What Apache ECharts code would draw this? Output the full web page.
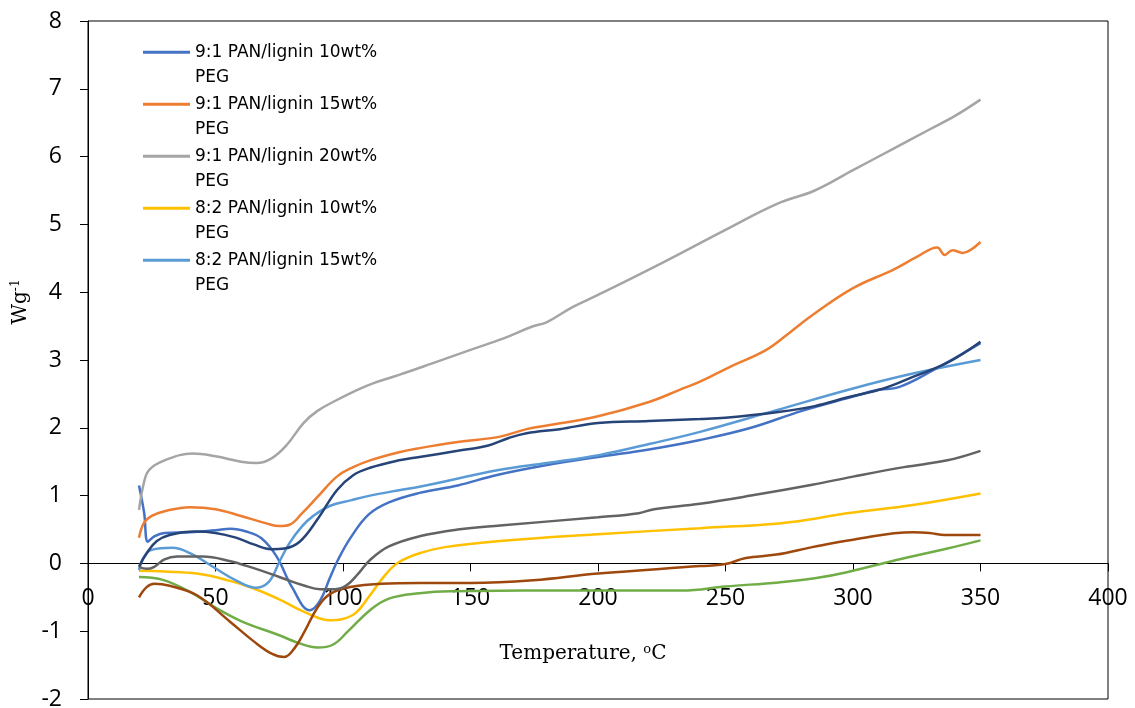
<!DOCTYPE html>
<html>
<head>
<meta charset="utf-8">
<script src="https://cdn.jsdelivr.net/npm/echarts@6/dist/echarts.min.js"></script>
<style>
  html, body { margin: 0; padding: 0; background: #fff; }
  #chart { width: 1135px; height: 708px; }
</style>
</head>
<body>
<div id="chart"></div>
<script>
// x ticks / y ticks
var xTicks = [0, 400, 50];
var yTicks = [-2, 8, 1];

// legend names (only first five show in legend)
var seriesNames = [
    '9:1 PAN/lignin 10wt% PEG',
    '9:1 PAN/lignin 15wt% PEG',
    '9:1 PAN/lignin 20wt% PEG',
    '8:2 PAN/lignin 10wt% PEG',
    '8:2 PAN/lignin 15wt% PEG',
    'Series 6',
    'Series 7',
    'Series 8',
    'Series 9'
];
var seriesColors = ['#4472C4', '#ED7D31', '#A5A5A5', '#FFC000', '#5B9BD5', '#70AD47', '#264478', '#9E480E', '#636363'];

// [temperature, W/g]
var blue10 = [[20,1.15],[22,0.75],[23.5,0.32],[26,0.4],[30,0.45],[40,0.46],[50,0.49],[56,0.51],[62,0.47],[68,0.37],[74,0.1],[80,-0.35],[87,-0.69],[91,-0.55],[95,-0.2],[98,0.05],[103,0.38],[110,0.72],[118,0.9],[130,1.04],[145,1.15],[160,1.3],[180,1.45],[200,1.57],[220,1.68],[240,1.82],[260,2.0],[280,2.25],[300,2.46],[310,2.56],[318,2.6],[330,2.82],[350,3.25]];
var orange15 = [[20,0.38],[22,0.6],[25,0.7],[30,0.77],[40,0.83],[50,0.8],[60,0.7],[70,0.59],[75,0.55],[79,0.57],[84,0.74],[90,0.98],[97.6,1.28],[104,1.42],[110.6,1.52],[122,1.64],[130,1.7],[145,1.79],[161.6,1.87],[172,1.98],[181,2.04],[200,2.17],[220,2.38],[232,2.56],[240,2.68],[251.8,2.9],[266,3.15],[275,3.4],[284,3.66],[300,4.06],[315.7,4.33],[325,4.52],[333,4.66],[336,4.55],[339,4.62],[343,4.58],[346,4.62],[350,4.74]];
var gray20 = [[20,0.79],[22,1.2],[24,1.38],[30,1.52],[41,1.62],[50,1.58],[60,1.5],[66,1.48],[72,1.55],[78,1.75],[84.5,2.07],[90,2.25],[97.6,2.41],[105,2.55],[112,2.66],[122,2.78],[135,2.95],[150,3.15],[163,3.32],[174,3.49],[180,3.56],[190,3.78],[200,3.96],[225,4.43],[250,4.92],[270,5.3],[285,5.5],[300,5.8],[315,6.1],[330,6.4],[340,6.6],[350,6.84]];
var yellow10 = [[20,-0.11],[30,-0.12],[42.7,-0.15],[55,-0.25],[65,-0.37],[75,-0.53],[85,-0.72],[95,-0.84],[100,-0.82],[105,-0.73],[110,-0.5],[117,-0.15],[122,0.02],[130,0.15],[140,0.24],[161.6,0.33],[200,0.43],[240,0.52],[271,0.59],[285,0.66],[297.6,0.74],[323.5,0.86],[350,1.03]];
var ltblue15 = [[20,-0.1],[22,0.1],[25,0.2],[33,0.23],[40,0.15],[49,-0.05],[58,-0.25],[66,-0.36],[71,-0.27],[75,0.02],[79,0.3],[84,0.55],[88,0.69],[95,0.85],[103,0.93],[110.6,1.0],[122,1.08],[130,1.13],[161.6,1.38],[180,1.48],[200.8,1.6],[220,1.76],[240,1.94],[270,2.26],[300,2.58],[323.5,2.8],[350,3.0]];
var green6 = [[20,-0.2],[29,-0.24],[40,-0.42],[49,-0.63],[60,-0.85],[75,-1.06],[83,-1.18],[90,-1.24],[96,-1.2],[102,-1.0],[110.6,-0.69],[118,-0.52],[130,-0.44],[142,-0.41],[200,-0.4],[233,-0.4],[250,-0.34],[271,-0.28],[285,-0.22],[297.6,-0.13],[317,0.05],[337,0.22],[350,0.34]];
var navy7 = [[20,-0.05],[23,0.15],[27,0.33],[32,0.42],[42,0.47],[50,0.45],[58,0.38],[65,0.28],[72,0.21],[77,0.22],[83,0.32],[90,0.65],[97.6,1.08],[104,1.3],[110.6,1.41],[122,1.52],[130,1.57],[145,1.66],[157,1.74],[165,1.85],[172,1.92],[185,1.98],[200,2.07],[220,2.1],[240,2.13],[250,2.15],[270,2.23],[285,2.32],[298,2.45],[312,2.58],[323.5,2.75],[337,2.96],[350,3.27]];
var brown8 = [[20,-0.5],[23,-0.35],[26,-0.3],[32,-0.33],[42.7,-0.47],[55.7,-0.86],[65,-1.15],[72,-1.33],[77,-1.38],[81,-1.25],[85,-1.0],[90,-0.65],[95,-0.45],[104,-0.34],[115,-0.3],[130,-0.29],[150,-0.29],[174.5,-0.25],[200,-0.15],[240,-0.04],[250,-0.01],[258,0.08],[270,0.13],[284,0.24],[300,0.35],[323.5,0.46],[330,0.45],[336,0.42],[350,0.42]];
var dkgray9 = [[20,-0.05],[23,-0.08],[26,-0.05],[30,0.06],[35,0.1],[45,0.1],[55,0.04],[65,-0.07],[75,-0.2],[85,-0.33],[91,-0.38],[97,-0.38],[101.5,-0.32],[106,-0.15],[110.6,0.05],[118,0.25],[130,0.4],[145,0.5],[161.6,0.56],[200,0.68],[216,0.74],[222,0.8],[240,0.88],[260,1.0],[284,1.16],[300,1.28],[320,1.42],[337,1.52],[350,1.66]];

var seriesData = [blue10, orange15, gray20, yellow10, ltblue15, green6, navy7, brown8, dkgray9];

var myEchart = echarts.init(document.getElementById('chart'));

var series = [];
seriesData.forEach(function(item, index) {
    series.push({
        name: seriesNames[index],
        type: 'line',
        data: item,
        smooth: 0.4,
        symbol: 'none',
        color: seriesColors[index],
        lineStyle: {
            color: seriesColors[index],
            width: 2.5
        }
    });
});

// grid geometry, x axis is lifted up to the y=0 line
var gridTop = 21, gridBottom = 9;
var plotH = 708 - gridTop - gridBottom;
var zeroLift = plotH * (0 - yTicks[0]) / (yTicks[1] - yTicks[0]);

var lh = 25.5;
var option = {
    animation: false,
    grid: {
        left: 88,
        right: 27,
        top: gridTop,
        bottom: gridBottom,
        containLabel: false,
        outerBoundsMode: 'none',
        show: true,
        borderColor: '#000',
        borderWidth: 1
    },
    legend: {
        data: seriesNames.slice(0, 5),
        orient: 'vertical',
        left: 138,
        top: 9,
        icon: 'rect',
        itemWidth: 47,
        itemHeight: 3,
        itemGap: -24.5,
        textStyle: {
            fontFamily: 'DejaVu Sans',
            fontSize: 17,
            color: '#000',
            lineHeight: lh
        },
        formatter: function(name) {
            // empty first line so the icon sits beside the first text line
            return '\n' + name.replace(' PEG', '\nPEG');
        }
    },
    xAxis: {
        type: 'value',
        position: 'bottom',
        offset: -zeroLift,
        min: xTicks[0],
        max: xTicks[1],
        interval: xTicks[2],
        name: 'Temperature, {sup|o}C',
        nameLocation: 'middle',
        nameGap: 80,
        nameTextStyle: {
            fontFamily: 'DejaVu Serif',
            fontSize: 20,
            color: '#000',
            padding: [0, 30, 0, 0],
            rich: {
                sup: {
                    fontFamily: 'DejaVu Serif',
                    fontSize: 13,
                    color: '#000',
                    verticalAlign: 'top',
                    padding: [0, 0, 8, 0]
                }
            }
        },
        axisLine: {
            onZero: false,
            lineStyle: { color: '#000', width: 1 }
        },
        axisTick: {
            show: true,
            length: 8,
            lineStyle: { color: '#000' }
        },
        axisLabel: {
            fontFamily: 'Open Sans',
            fontSize: 23,
            color: '#000',
            margin: 24
        },
        splitLine: { show: false }
    },
    yAxis: {
        type: 'value',
        min: yTicks[0],
        max: yTicks[1],
        interval: yTicks[2],
        name: 'Wg{sup|-1}',
        nameLocation: 'middle',
        nameGap: 56,
        nameTextStyle: {
            fontFamily: 'DejaVu Serif',
            fontSize: 20,
            color: '#000',
            padding: [0, 0, 0, 116],
            rich: {
                sup: {
                    fontFamily: 'DejaVu Serif',
                    fontSize: 12,
                    color: '#000',
                    padding: [0, 0, 10, 0]
                }
            }
        },
        axisLine: {
            show: true,
            lineStyle: { color: '#000', width: 1 }
        },
        axisTick: {
            show: true,
            length: 8,
            lineStyle: { color: '#000' }
        },
        axisLabel: {
            fontFamily: 'Open Sans',
            fontSize: 23,
            color: '#000',
            margin: 26
        },
        splitLine: { show: false }
    },
    series: series
};
myEchart.setOption(option);
</script>
</body>
</html>
